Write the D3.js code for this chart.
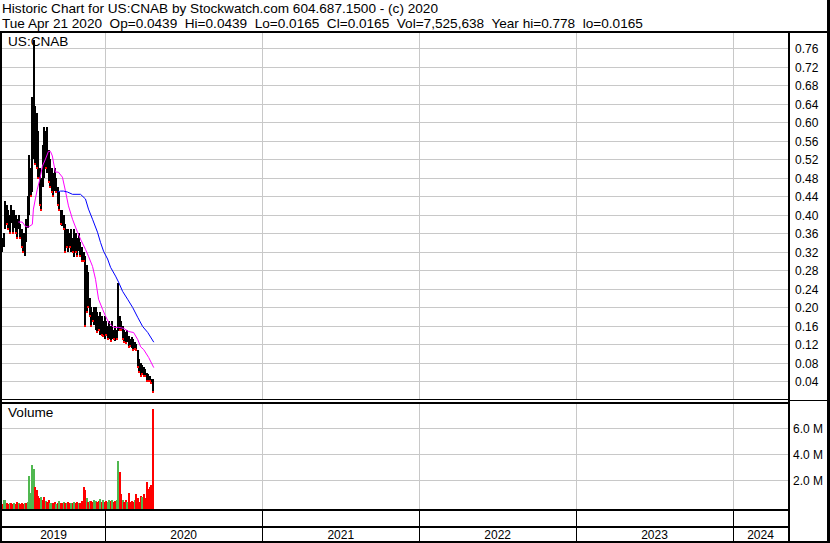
<!DOCTYPE html>
<html>
<head>
<script src="https://d3js.org/d3.v7.min.js"></script>
<style>
body { margin: 0; background: #fff; }
text { font-family: "Liberation Sans", Arial, sans-serif; fill: #000; }
</style>
</head>
<body>
<div class="chart"></div>
<script>
var w = 830, h = 543;

// one bar every 3.5 calendar days from May 7 2019 to Apr 21 2020
var start = new Date(2019, 4, 7), stepDays = 3.5;

var hi = [0.35,0.36,0.43,0.42,0.41,0.40,0.42,0.41,0.41,0.40,
          0.39,0.40,0.38,0.37,0.36,0.36,0.39,0.44,0.53,0.50,
          0.655,0.778,0.635,0.62,0.58,0.50,0.48,0.55,0.59,0.58,
          0.59,0.54,0.52,0.50,0.49,0.50,0.48,0.46,0.45,0.41,
          0.41,0.40,0.38,0.37,0.37,0.36,0.37,0.35,0.37,0.36,
          0.35,0.36,0.34,0.33,0.32,0.31,0.29,0.275,0.22,0.20,
          0.19,0.20,0.20,0.19,0.18,0.19,0.18,0.17,0.18,0.17,
          0.16,0.17,0.16,0.17,0.15,0.16,0.15,0.253,0.18,0.17,
          0.16,0.15,0.145,0.15,0.137,0.13,0.135,0.13,0.125,0.12,
          0.108,0.087,0.08,0.075,0.07,0.065,0.058,0.055,0.05,0.045,
          0.0439];
var lo = [0.32,0.33,0.37,0.38,0.37,0.36,0.38,0.36,0.37,0.36,
          0.35,0.37,0.35,0.33,0.32,0.31,0.34,0.37,0.40,0.44,
          0.45,0.52,0.51,0.50,0.48,0.42,0.41,0.46,0.48,0.50,
          0.49,0.47,0.46,0.45,0.44,0.45,0.45,0.42,0.41,0.38,
          0.375,0.37,0.32,0.33,0.32,0.33,0.32,0.32,0.31,0.32,
          0.31,0.32,0.31,0.30,0.30,0.16,0.19,0.20,0.18,0.16,
          0.17,0.16,0.15,0.145,0.15,0.14,0.14,0.137,0.13,0.14,
          0.13,0.13,0.126,0.13,0.13,0.127,0.13,0.15,0.15,0.15,
          0.13,0.125,0.123,0.125,0.113,0.115,0.112,0.108,0.11,0.108,
          0.07,0.06,0.05,0.055,0.05,0.05,0.04,0.039,0.04,0.035,
          0.0165];
// volume in shares, with up (1) / down (0) day colouring
var vol = [0.15,0.45,0.5,0.2,0.15,0.2,0.25,0.15,0.2,0.15,
           0.3,0.2,0.15,0.2,0.15,0.25,0.2,0.3,2.3,1.0,
           3.2,2.9,1.5,1.2,0.8,0.6,0.7,0.5,0.7,0.4,
           0.3,0.5,0.2,0.25,0.2,0.3,0.15,0.2,0.35,0.25,
           0.2,0.3,0.25,0.2,0.3,0.2,0.25,0.2,0.3,0.2,
           0.3,0.25,0.2,0.35,1.5,1.2,0.6,0.3,0.35,0.4,
           0.3,0.5,0.4,0.3,0.4,0.55,0.3,0.45,0.3,0.4,
           0.3,0.45,0.35,0.5,0.3,0.4,0.45,3.5,2.6,0.9,
           0.5,0.3,0.45,0.3,1.0,0.3,0.4,0.3,0.5,0.9,
           0.6,0.3,0.8,0.7,0.9,0.6,1.85,1.3,1.5,1.6,
           7.525638].map(function(v) { return v * 1e6; });
var volUp = [0,1,1,0,0,1,0,0,1,0, 0,1,0,0,0,1,0,1,1,1,
             1,1,0,0,0,0,1,0,0,1, 0,0,1,1,0,0,1,0,1,0,
             0,1,0,1,0,0,1,0,1,0, 0,1,0,0,0,0,1,0,1,0,
             0,1,1,0,0,1,0,1,0,0, 1,1,0,1,0,0,1,1,0,0,
             1,0,0,1,0,0,0,0,1,0, 0,0,0,1,0,0,0,0,0,0, 0];

// moving averages: [bar index, value]
var maFast = [[10.7,0.384],[13.3,0.384],[15.3,0.375],[17.3,0.373],[20,0.379],[20.7,0.412],
              [22,0.434],[23.3,0.455],[24.7,0.473],[26.7,0.505],[28.7,0.520],[30.7,0.537],
              [32,0.537],[33.3,0.527],[34,0.514],[35.3,0.492],[37.3,0.492],[40,0.481],
              [42,0.451],[44,0.419],[46.7,0.390],[50,0.362],[52,0.347],[55.3,0.325],
              [57.3,0.310],[60,0.288],[62,0.260],[64,0.217],[66.7,0.195],[68.7,0.180],
              [70.7,0.167],[74,0.156],[77.3,0.156],[80.7,0.154],[84,0.147],[87.3,0.145],
              [90,0.130],[92,0.114],[94,0.108],[97.3,0.091],[100.7,0.069]];
var maSlow = [[36.7,0.449],[38.7,0.451],[40.7,0.451],[43.3,0.449],[46.7,0.444],[52,0.444],
              [55.3,0.434],[57.3,0.412],[60,0.390],[63.3,0.362],[65.3,0.340],[67.3,0.321],
              [70,0.304],[72,0.286],[75.3,0.267],[77.3,0.254],[80,0.234],[83.3,0.217],
              [86.7,0.199],[90,0.178],[93.3,0.158],[96.7,0.145],[100.7,0.124]];

var priceTicks = [0.04,0.08,0.12,0.16,0.20,0.24,0.28,0.32,0.36,0.40,
                  0.44,0.48,0.52,0.56,0.60,0.64,0.68,0.72,0.76];
var volTicks = [2e6, 4e6, 6e6];
var years = [2019, 2020, 2021, 2022, 2023, 2024];

var header1 = "Historic Chart for US:CNAB by Stockwatch.com 604.687.1500 - (c) 2020";
var header2 = "Tue Apr 21 2020  Op=0.0439  Hi=0.0439  Lo=0.0165  Cl=0.0165  Vol=7,525,638  Year hi=0.778  lo=0.0165";

var left = 2, right = 788;
var grid = "#c8c8c8";

var svg = d3.select(".chart").append("svg")
  .attr("width", w).attr("height", h)
  .attr("shape-rendering", "crispEdges");
svg.append("rect").attr("width", w).attr("height", h).attr("fill", "#fff");

var x = d3.scaleTime()
  .domain([new Date(2020, 0, 1), new Date(2024, 0, 1)])
  .range([105, 733]);
var y = d3.scaleLinear().domain([0, 0.8]).range([399.5, 29.8]);
var yv = d3.scaleLinear().domain([0, 8e6]).range([506, 402.6]);

function dateAt(i) { return new Date(start.getTime() + i * stepDays * 864e5); }
function bx(i) { return Math.round(x(dateAt(i))); }

// header
svg.append("text").attr("x", 2).attr("y", 12.5).attr("font-size", 13.6)
  .style("white-space", "pre").text(header1);
svg.append("text").attr("x", 2).attr("y", 28.3).attr("font-size", 13.6)
  .style("white-space", "pre").text(header2);

// grid lines
svg.append("g").selectAll("line").data(priceTicks).enter().append("line")
  .attr("x1", left).attr("x2", right)
  .attr("y1", function(d) { return Math.round(y(d)) + 0.5; })
  .attr("y2", function(d) { return Math.round(y(d)) + 0.5; })
  .attr("stroke", grid);
svg.append("g").selectAll("line").data(volTicks).enter().append("line")
  .attr("x1", left).attr("x2", right)
  .attr("y1", function(d) { return Math.round(yv(d)) + 0.5; })
  .attr("y2", function(d) { return Math.round(yv(d)) + 0.5; })
  .attr("stroke", grid);
var bounds = years.slice(1);
[[33, 399], [404, 509]].forEach(function(r) {
  svg.append("g").selectAll("line").data(bounds).enter().append("line")
    .attr("x1", function(d) { return Math.round(x(new Date(d, 0, 1))) + 0.5; })
    .attr("x2", function(d) { return Math.round(x(new Date(d, 0, 1))) + 0.5; })
    .attr("y1", r[0]).attr("y2", r[1])
    .attr("stroke", grid);
});

// price bars
var idx = d3.range(hi.length);
svg.append("g").selectAll("rect").data(idx).enter().append("rect")
  .attr("x", function(i) { return bx(i) - 1; })
  .attr("width", 2)
  .attr("y", function(i) { return Math.round(y(hi[i])); })
  .attr("height", function(i) { return Math.max(1, Math.round(y(lo[i]) - y(hi[i]))); })
  .attr("fill", "#000");
svg.append("g").selectAll("rect")
  .data(idx.filter(function(i) { return i > 0 && hi[i] < hi[i - 1]; }))
  .enter().append("rect")
  .attr("x", function(i) { return bx(i) - 1; })
  .attr("width", 2)
  .attr("y", function(i) { return Math.round(y(lo[i])) - 1; })
  .attr("height", 2)
  .attr("fill", "#ff0000");

// moving averages
var maLine = d3.line()
  .x(function(d) { return x(dateAt(d[0])); })
  .y(function(d) { return y(d[1]); });
svg.append("path").attr("d", maLine(maFast)).attr("fill", "none")
  .attr("stroke", "#ff00ff").attr("stroke-width", 1).attr("shape-rendering", "auto");
svg.append("path").attr("d", maLine(maSlow)).attr("fill", "none")
  .attr("stroke", "#0000ff").attr("stroke-width", 1).attr("shape-rendering", "auto");

// volume bars
svg.append("g").selectAll("rect").data(idx).enter().append("rect")
  .attr("x", function(i) { return bx(i) - 1; })
  .attr("width", 2)
  .attr("y", function(i) { return Math.round(yv(vol[i])); })
  .attr("height", function(i) { return 509 - Math.round(yv(vol[i])); })
  .attr("fill", function(i) { return volUp[i] ? "#50b850" : "#ff0000"; });

// frame
function box(x0, y0, ww, hh) {
  svg.append("rect").attr("x", x0).attr("y", y0).attr("width", ww).attr("height", hh).attr("fill", "#000");
}
box(0, 31, w, 2);          // under header
box(0, 31, 2, h - 31);     // left
box(827, 0, 3, h);         // right border
box(right, 31, 2, h - 31); // axis line
box(0, 399, right, 1);     // panel separator
box(0, 402, right, 2);
box(right, 400, w - right, 1);
box(0, 509, right, 2);     // bottom rows
box(0, 526, right, 2);
box(0, 541, w, 2);
svg.append("g").selectAll("rect").data(bounds).enter().append("rect")
  .attr("x", function(d) { return Math.round(x(new Date(d, 0, 1))); })
  .attr("y", 511).attr("width", 1).attr("height", 30).attr("fill", "#000");

// labels
svg.append("text").attr("x", 8).attr("y", 45.5).attr("font-size", 13.6).text("US:CNAB");
svg.append("text").attr("x", 8).attr("y", 416.5).attr("font-size", 13.6).text("Volume");

svg.append("g").selectAll("text").data(priceTicks).enter().append("text")
  .attr("x", 795).attr("y", function(d) { return y(d) + 5; })
  .attr("font-size", 12).text(function(d) { return d.toFixed(2); });
svg.append("g").selectAll("text").data(volTicks).enter().append("text")
  .attr("x", 793).attr("y", function(d) { return yv(d) + 5; })
  .attr("font-size", 12).text(function(d) { return (d / 1e6).toFixed(1) + " M"; });

svg.append("g").selectAll("text").data(years).enter().append("text")
  .attr("x", function(d) {
    var a = Math.max(left, x(new Date(d, 0, 1))), b = Math.min(right, x(new Date(d + 1, 0, 1)));
    return (a + b) / 2;
  })
  .attr("y", 539).attr("font-size", 12).attr("text-anchor", "middle")
  .text(function(d) { return d; });
</script>
</body>
</html>
